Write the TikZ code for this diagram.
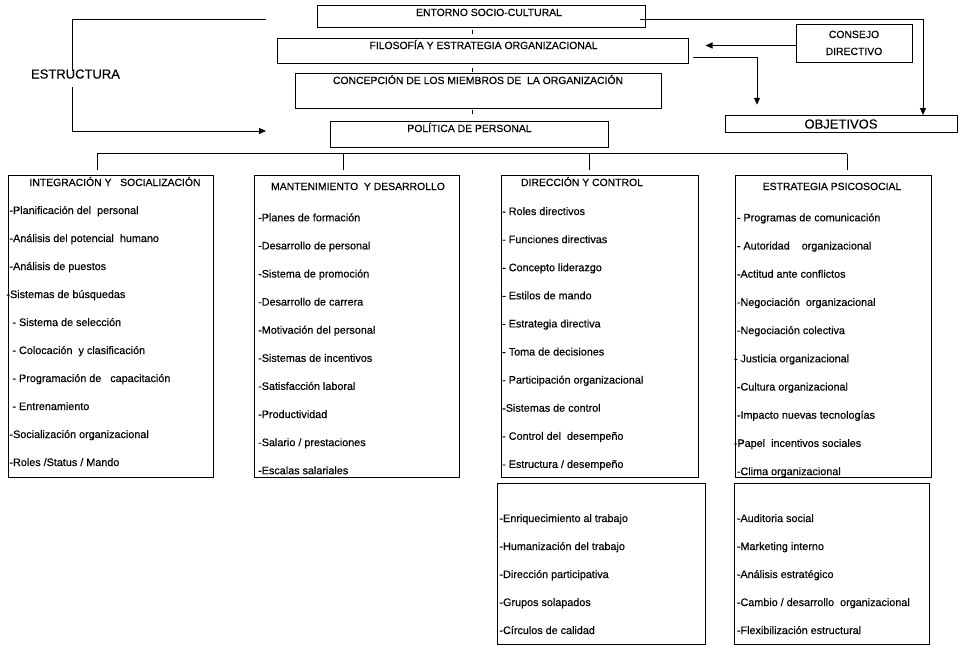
\documentclass[tikz,border=0pt]{standalone}
\usepackage{fontspec}
\setmainfont[FakeBold=0.4]{Liberation Sans}
\usetikzlibrary{
  arrows.meta,
  calc,
  positioning
}

\begin{document}
\begin{tikzpicture}[x=1pt, y=-1pt,
    box/.style={draw, line width=1pt, anchor=north west, inner sep=0pt},
    head/.style={font=\fontsize{10.4}{12}\selectfont, inner sep=0pt, anchor=base},
    big/.style={font=\fontsize{13}{15}\selectfont, inner sep=0pt, anchor=base},
    item/.style={font=\fontsize{10.8}{12}\selectfont, inner sep=0pt, anchor=base west},
    link/.style={line width=1pt},
    arr/.style={line width=1pt, -{Triangle[length=7pt, width=6pt]}}]
  \useasboundingbox (0,0) rectangle (968,651);

  % upper chain
  \node[box, minimum width=328, minimum height=22] (entorno) at (317,5) {};
  \node[box, minimum width=411, minimum height=24.5] (filosofia) at (277,38) {};
  \node[box, minimum width=365.5, minimum height=34.5] (concepcion) at (295,73) {};
  \node[box, minimum width=278, minimum height=26] (politica) at (330,121) {};
  \node[box, minimum width=116, minimum height=38] (consejo) at (795.5,24) {};
  \node[box, minimum width=232, minimum height=17] (objetivos) at (725,115) {};
  \node[head] (entornotxt) at (489,16) {ENTORNO SOCIO-CULTURAL};
  \node[head] (filosofiatxt) at (483.5,49) {FILOSOFÍA Y ESTRATEGIA ORGANIZACIONAL};
  \node[head] (concepciontxt) at (478,84) {CONCEPCIÓN DE LOS MIEMBROS DE~ LA ORGANIZACIÓN};
  \node[head] (politicatxt) at (469.5,132) {POLÍTICA DE PERSONAL};
  \node[head] (consejotxt) at (854,38) {CONSEJO};
  \node[head] (directivotxt) at (854,55) {DIRECTIVO};
  \node[big] (objetivostxt) at (841,128.5) {OBJETIVOS};
  \node[big] (estructura) at (75.5,78.5) {ESTRUCTURA};

  \foreach \y in {30,68,110}
    \draw[link] (472.5,\y) -- ++(0,4);

  % estructura loop
  \coordinate (estin) at (266,19);
  \coordinate (estout) at (266,131);
  \draw[link] (estin) -| (72,71);
  \draw[arr] (72,87) |- (estout);

  % links to objetivos
  \coordinate (objin) at (923,115);
  \draw[arr] ([xshift=-6pt,yshift=-3pt]entorno.east) -| (objin);
  \draw[arr] ([yshift=-2pt]consejo.west) -- ++(-90,0);
  \draw[arr] ([xshift=4pt,yshift=-7pt]filosofia.east) -| ++(64,47);

  % lower boxes
  \node[box, minimum width=205, minimum height=302] (integ) at (8,175) {};
  \node[box, minimum width=205, minimum height=302] (mant) at (254,175) {};
  \node[box, minimum width=197, minimum height=302] (direc) at (501,175) {};
  \node[box, minimum width=196, minimum height=302] (estrat) at (734.5,175) {};
  \node[box, minimum width=208, minimum height=161] (direcb) at (496.5,483) {};
  \node[box, minimum width=195, minimum height=161] (estratb) at (734,483) {};

  % bus
  \coordinate (b1) at (97,153.5);
  \coordinate (b2) at (343,153.5);
  \coordinate (b3) at (589,153.5);
  \coordinate (b4) at (847,153.5);
  \draw[link] (b1) -- (b4);
  \draw[link, shorten >=5pt] (b1) -- (b1 |- integ.north);
  \draw[link, shorten >=5pt] (b2) -- (b2 |- mant.north);
  \draw[link, shorten >=5pt] (b3) -- (b3 |- direc.north);
  \draw[link, shorten >=5pt] (b4) -- (b4 |- estrat.north);

  \node[head] (integtxt) at (115,186) {INTEGRACIÓN Y~~ SOCIALIZACIÓN};
  \node[head] (manttxt) at (358,190) {MANTENIMIENTO~ Y DESARROLLO};
  \node[head] (directxt) at (582,186) {DIRECCIÓN Y CONTROL};
  \node[head] (estrattxt) at (832,190) {ESTRATEGIA PSICOSOCIAL};

  \foreach \t [count=\i] in {-Planificación del~ personal, -Análisis del potencial~ humano,
      -Análisis de puestos, \hspace{-3pt}-Sistemas de búsquedas, \ - Sistema de selección,
      \ - Colocación~ y clasificación, \ - Programación de~~ capacitación, \ - Entrenamiento,
      -Socialización organizacional, -Roles /Status / Mando}
    \node[item] (integ-\i) at (9.3,{214+28*(\i-1)}) {\t};

  \foreach \t [count=\i] in {-Planes de formación, -Desarrollo de personal, -Sistema de promoción,
      -Desarrollo de carrera, -Motivación del personal, -Sistemas de incentivos,
      -Satisfacción laboral, -Productividad, -Salario / prestaciones, -Escalas salariales}
    \node[item] (mant-\i) at (258,{221.3+28.1*(\i-1)}) {\t};

  \foreach \t [count=\i] in {- Roles directivos, - Funciones directivas, - Concepto liderazgo,
      - Estilos de mando, - Estrategia directiva, - Toma de decisiones,
      - Participación organizacional, -Sistemas de control, - Control del~ desempeño,
      - Estructura / desempeño}
    \node[item] (direc-\i) at (502,{215+28.1*(\i-1)}) {\t};

  \foreach \t [count=\i] in {- Programas de comunicación, - Autoridad~~~ organizacional,
      -Actitud ante conflictos, -Negociación~ organizacional, -Negociación colectiva,
      \hspace{-3pt}- Justicia organizacional, -Cultura organizacional,
      -Impacto nuevas tecnologías, \hspace{-3pt}-Papel~ incentivos sociales, -Clima organizacional}
    \node[item] (estrat-\i) at (736.7,{221.3+28.2*(\i-1)}) {\t};

  \foreach \t [count=\i] in {-Enriquecimiento al trabajo, -Humanización del trabajo,
      -Dirección participativa, -Grupos solapados, -Círculos de calidad}
    \node[item] (direcb-\i) at (499.3,{522+28*(\i-1)}) {\t};

  \foreach \t [count=\i] in {-Auditoria social, -Marketing interno, -Análisis estratégico,
      -Cambio / desarrollo~ organizacional, -Flexibilización estructural}
    \node[item] (estratb-\i) at (736.7,{522+28*(\i-1)}) {\t};
\end{tikzpicture}
\end{document}
